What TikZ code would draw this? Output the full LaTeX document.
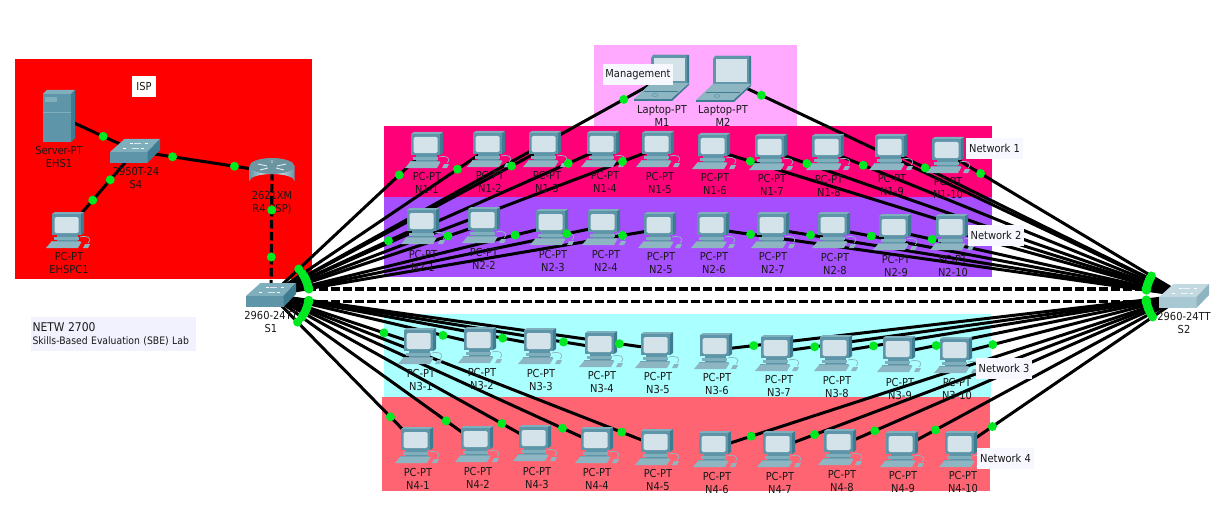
\documentclass[tikz,border=0pt]{standalone}
\usepackage{fontspec}
\setmainfont{DejaVu Sans Condensed}
\usetikzlibrary{calc}
\definecolor{ispred}{HTML}{FF0000}
\definecolor{mgmt}{HTML}{FFAAFF}
\definecolor{netone}{HTML}{FF0078}
\definecolor{nettwo}{HTML}{A64FFF}
\definecolor{netthree}{HTML}{AAFFFF}
\definecolor{netfour}{HTML}{FF6473}
\definecolor{linkgreen}{HTML}{00EA22}
\definecolor{tealfront}{HTML}{5F95A8}
\definecolor{tealtop}{HTML}{7FAEBD}
\definecolor{tealside}{HTML}{3E7C92}
\definecolor{tealbase}{HTML}{8DB6C2}
\definecolor{screenc}{HTML}{D4E3EA}
\definecolor{ltfront}{HTML}{A8C8D4}
\definecolor{lttop}{HTML}{C3D9E1}
\definecolor{ltside}{HTML}{8FB3C0}
\tikzset{
  link/.style={line width=3pt,black},
  trunk/.style={line width=3.2pt,black,dash pattern=on 8.5pt off 3.5pt},
  linkdot/.style={fill=linkgreen},
  devlabel/.style={inner sep=0pt,align=center,font=\fontsize{11}{13}\selectfont,text=black!90},
  note/.style={inner sep=0pt,font=\fontsize{11}{13}\selectfont,text=black!90,fill=#1},
  note/.default={white},
  pcicon/.pic={
    \fill[tealside] (13,2)--(16,0)--(16,21)--(13,23)--cycle;
    \fill[tealtop] (-16,2)--(-13,0)--(16,0)--(13,2)--cycle;
    \fill[tealfront] (-16,2) rectangle (13,23);
    \fill[screenc,rounded corners=1.5pt] (-13.5,5) rectangle (10.5,21);
    \fill[tealfront] (-11,23) rectangle (10,30);
    \fill[tealtop] (-14,25) rectangle (11,28);
    \fill[tealside!70] (-17,29)--(12,29)--(13,30)--(-17,30)--cycle;
    \fill[tealbase] (-22,36)--(10,36)--(13.5,30)--(-17,30)--cycle;
    \fill[tealbase] (15,36)--(20,36)--(22,32)--(17,32)--cycle;
    \draw[tealbase,line width=.7pt] (12,25) .. controls (19,23) and (25,26) .. (20,31);
  },
  switchicon/.pic={
    \fill[tealtop] (-25,1)--(12.5,1)--(25,-12)--(-10.5,-12)--cycle;
    \fill[tealfront] (-25,1) rectangle (12.5,12);
    \fill[tealside] (12.5,1)--(25,-12)--(25,-1)--(12.5,12)--cycle;
    \foreach \a/\b in {-12/-3,-5/-8,6/-3,10/-8}{\draw[white,line width=.8pt] (\a,\b)--++(3,0);}
    \draw[white!70!tealtop,line width=.6pt] (-3,-3)--(4,-3) (-1,-8)--(6,-8);
  },
  lightswitchicon/.pic={
    \fill[lttop] (-25,1)--(12.5,1)--(25,-12)--(-10.5,-12)--cycle;
    \fill[ltfront] (-25,1) rectangle (12.5,12);
    \fill[ltside] (12.5,1)--(25,-12)--(25,-1)--(12.5,12)--cycle;
    \foreach \a/\b in {-12/-3,-5/-8,6/-3,10/-8}{\draw[white,line width=.8pt] (\a,\b)--++(3,0);}
    \draw[white!70!lttop,line width=.6pt] (-3,-3)--(4,-3) (-1,-8)--(6,-8);
  },
  routericon/.pic={
    \shade[left color=tealside!80,right color=tealside!80,middle color=white]
      (-22.5,-6) -- (-22.5,9) arc[start angle=180,end angle=360,x radius=22.5,y radius=7] -- (22.5,-6) -- cycle;
    \fill[tealtop!85!black] (0,-6) ellipse[x radius=22.5,y radius=8];
    \draw[white!80!tealtop,line width=.9pt] (-14,-8)--(-5,-6) (14,-8)--(5,-6) (-12,-2)--(-4,-4) (12,-2)--(4,-4) (0,-12)--(0,-9);
  },
  servericon/.pic={
    \fill[tealtop] (-16,-22)--(-12,-26)--(16,-26)--(12,-22)--cycle;
    \fill[tealside] (12,-22)--(16,-26)--(16,22)--(12,26)--cycle;
    \fill[tealfront] (-16,-22) rectangle (12,26);
    \fill[tealtop] (-14,-19) rectangle (-2,-14);
    \draw[tealtop,line width=.6pt] (-16,-4)--(12,-4);
  },
  laptopicon/.pic={
    \fill[tealside] (-14,5)--(-12,-23)--(24,-23)--(24,5)--cycle;
    \fill[tealfront] (-14,5)--(-14,-20)--(-12,-23)--(22,-23)--(22,5)--cycle;
    \fill[screenc] (-11,3)--(-11,-20)--(20,-20)--(20,3)--cycle;
    \fill[tealside] (-31,21)--(6,21)--(24,5)--(24,7)--(7,23)--(-31,23)--cycle;
    \fill[tealbase] (-31,21)--(6,21)--(24,5)--(-14,5)--cycle;
    \draw[tealside,line width=.5pt] (-21,13)--(13,13);
    \draw[tealfront,line width=.5pt] (-10,17) ellipse[x radius=3,y radius=1.5];
  }
}
\newcommand{\devlink}[3][link]{\draw[#1] (#2)--(#3);}
\newcommand{\linkdots}[2]{\fill[linkdot] ($(#1)!38pt!(#2)$) circle (4.5);\fill[linkdot] ($(#2)!38pt!(#1)$) circle (4.5);}
\def\pclist{
1/1/427/132/427/176,1/2/489/131/490/175,1/3/545/131/547/175,1/4/603/131/605/175,1/5/658/131/660/176,
1/6/714/133/715/177,1/7/771/134/772/178,1/8/828/134/829/179,1/9/891/134/892/178,1/10/948/137/948/181,
2/1/423/208/423/254,2/2/484/207/484/252,2/3/552/209/553/254,2/4/604/209/606/254,2/5/660/212/661/256,
2/6/713/212/714/256,2/7/773/212/773/256,2/8/834/212/835/257,2/9/895/214/896/259,2/10/952/214/953/259,
3/1/420/328/421/373,3/2/480/327/482/372,3/3/540/328/541/373,3/4/601/331/602/375,3/5/657/332/658/376,
3/6/716/333/717/377,3/7/777/335/779/379,3/8/836/335/837/380,3/9/899/336/900/382,3/10/956/337/957/382,
4/1/417/427/418/472,4/2/477/426/478/471,4/3/535/425/537/471,4/4/597/427/597/472,4/5/657/429/658/473,
4/6/715/431/717/476,4/7/779/431/780/476,4/8/840/429/842/474,4/9/902/431/903/475,4/10/961/431/963/475}
\begin{document}
\begin{tikzpicture}[x=1pt,y=-1pt]
\useasboundingbox (0,0) rectangle (1231,532);
% areas
\fill[ispred] (15,59) rectangle (312,279);
\fill[mgmt] (594,45) rectangle (797,126);
\fill[netone] (384,126) rectangle (992,197);
\fill[nettwo] (384,197) rectangle (992,277);
\fill[netthree] (384,314) rectangle (991,397);
\fill[netfour] (382,397) rectangle (990,491);
% device anchors
\coordinate (S1) at (271,295);
\coordinate (S2) at (1184,295.5);
\coordinate (S4) at (135,151);
\coordinate (R4) at (272,172);
\coordinate (EHS1) at (59,116);
\coordinate (EHSPC1) at (68,229);
\coordinate (M1) at (657,81);
\coordinate (M2) at (727,79);
\coordinate (S1a) at ($(S1)+(0,-6)$);
\coordinate (S1b) at ($(S1)+(0,6.5)$);
\coordinate (S2a) at ($(S2)+(0,-6.5)$);
\coordinate (S2b) at ($(S2)+(0,6)$);
\foreach \r/\i/\x/\t/\lx/\ly in \pclist {\coordinate (n\r x\i) at (\x,\t+17);}
% links
\devlink{EHS1}{S4}
\devlink{S4}{R4}
\devlink{S4}{EHSPC1}
\devlink[trunk]{R4}{S1}
\devlink[trunk]{S1a}{S2a}
\devlink[trunk]{S1b}{S2b}
\devlink{M1}{S1}
\devlink{M2}{S2}
\foreach \r/\i/\x/\t/\lx/\ly in \pclist {
  \ifnum\i<6 \def\sw{S1}\else\def\sw{S2}\fi
  \devlink{\sw}{n\r x\i}
}
% icons
\foreach \r/\i/\x/\t/\lx/\ly in \pclist {\pic at (\x,\t) {pcicon};}
\pic at (68,212) {pcicon};
\pic at (59,116) {servericon};
\pic at (S4) {switchicon};
\pic at (S1) {switchicon};
\pic at (1184,296) {lightswitchicon};
\pic at (R4) {routericon};
\pic at (665,78) {laptopicon};
\pic at (M2) {laptopicon};
% labels
\foreach \r/\i/\x/\t/\lx/\ly in \pclist {
  \node[devlabel] (lab\r x\i) at (\lx,\ly+6.5) {PC-PT\\N\r-\i};
}
\node[devlabel] (labEHS) at (59,156.5) {Server-PT\\EHS1};
\node[devlabel] (labPC) at (69,262.5) {PC-PT\\EHSPC1};
\node[devlabel] (labS4) at (136,177.5) {2950T-24\\S4};
\node[devlabel] (labR4) at (272,203) {2621XM\\R4 (ISP)};
\node[devlabel] (labS1) at (271,321.5) {2960-24TT\\S1};
\node[devlabel] (labS2) at (1184,323) {2960-24TT\\S2};
\node[devlabel] (labM1) at (662,115.5) {Laptop-PT\\M1};
\node[devlabel] (labM2) at (723,115.5) {Laptop-PT\\M2};
% link lights
\fill[linkdot] ($(S4)!35pt!(EHS1)$) circle (4.5);
\linkdots{S4}{R4}
\linkdots{S4}{EHSPC1}
\linkdots{R4}{S1}
\linkdots{S1a}{S2a}
\linkdots{S1b}{S2b}
\linkdots{M1}{S1}
\linkdots{M2}{S2}
\foreach \r/\i/\x/\t/\lx/\ly in \pclist {
  \ifnum\i<6 \def\sw{S1}\else\def\sw{S2}\fi
  \linkdots{\sw}{n\r x\i}
}
% notes
\node[note=white,minimum width=24pt,minimum height=21pt] (ISP) at (144,86.5) {ISP};
\node[note={white!97!blue},minimum width=70pt,minimum height=21pt] (Mg) at (638,74.5) {Management};
\node[note={white!97!blue},minimum width=57pt,minimum height=21pt] (N1) at (994.5,148.5) {Network 1};
\node[note={white!97!blue},minimum width=56pt,minimum height=21pt] (N2) at (996,235) {Network 2};
\node[note={white!97!blue},minimum width=56pt,minimum height=21pt] (N3) at (1004,368.5) {Network 3};
\node[note={white!97!blue},minimum width=57pt,minimum height=21pt] (N4) at (1005.5,458.5) {Network 4};
\node[note={white!95!blue},minimum width=165pt,minimum height=34pt,align=left,text width=162pt,font=\fontsize{10.3}{13}\selectfont] (NT) at (113.5,334) {{\fontsize{12}{13}\selectfont NETW 2700}\\Skills-Based Evaluation (SBE) Lab};
\end{tikzpicture}
\end{document}
